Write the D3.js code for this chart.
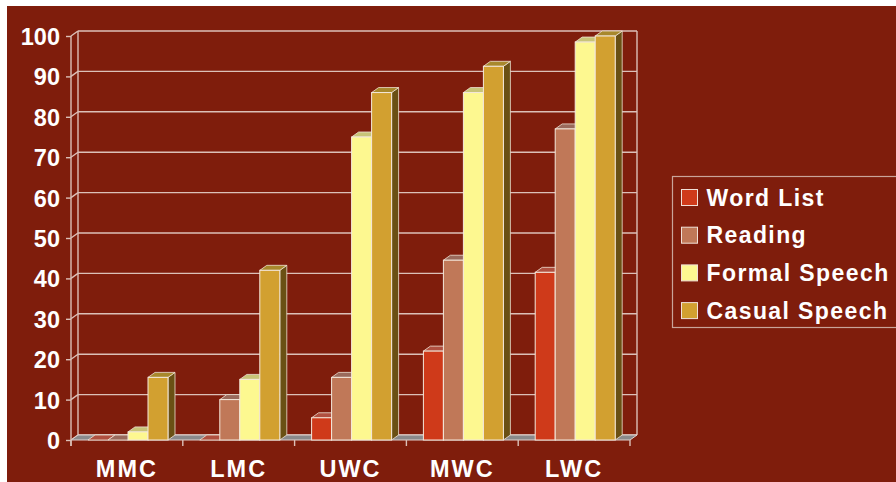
<!DOCTYPE html>
<html>
<head>
<meta charset="utf-8">
<script src="https://cdn.jsdelivr.net/npm/d3@7"></script>
<style>
  body { margin: 0; background: #fff; }
  svg { display: block; }
  text { font-family: "Liberation Sans", Arial, sans-serif; font-weight: bold; fill: #fff; }
</style>
</head>
<body>
<svg id="chart"></svg>
<script>
// data
const classes = ['MMC', 'LMC', 'UWC', 'MWC', 'LWC'];
const styles = ['Word List', 'Reading', 'Formal Speech', 'Casual Speech'];
const wordList = [0, 0, 5.5, 22, 41.5];
const reading = [0, 10, 15.5, 44.5, 77];
const formalSpeech = [2, 15, 75, 86, 98.5];
const casualSpeech = [15.5, 42, 86, 92.5, 100];
const yTicks = [0, 10, 20, 30, 40, 50, 60, 70, 80, 90, 100];

const seriesValues = [wordList, reading, formalSpeech, casualSpeech];

// front / top / side colours per series
const frontCol = ['#cf3a1a', '#c07858', '#fdf890', '#d2a030'];
const topCol = ['#b05040', '#9a6a5c', '#c8c478', '#a8882c'];
const sideCol = ['#7a2a14', '#7a4a38', '#a09c5c', '#6a5014'];

const W = 896, H = 482;
const dx = 7, dy = -5; // depth of the 3d look

const svg = d3.select('#chart').attr('width', W).attr('height', H);

// dark red panel
svg.append('rect').attr('x', 7).attr('y', 6).attr('width', W - 7).attr('height', H - 6)
  .attr('fill', '#7f1d0c');

const x0 = d3.scaleBand().domain(classes).range([71, 630]);
const x1 = d3.scaleBand().domain(styles).range([17, 97]);
const y = d3.scaleLinear().domain([0, 100]).range([440, 36]);

const gridCol = '#dcc0b8';

// back wall gridlines
svg.append('g').selectAll('line').data(yTicks).join('line')
  .attr('x1', 71 + dx).attr('x2', 630 + dx)
  .attr('y1', d => y(d) + dy).attr('y2', d => y(d) + dy)
  .attr('stroke', gridCol).attr('stroke-width', 1.4);

// back wall verticals
[71 + dx, 630 + dx].forEach(xx => {
  svg.append('line').attr('x1', xx).attr('x2', xx)
    .attr('y1', y(100) + dy).attr('y2', y(0) + dy)
    .attr('stroke', gridCol).attr('stroke-width', 1.4);
});

// side wall connectors from front ticks to back wall
svg.append('g').selectAll('line').data(yTicks).join('line')
  .attr('x1', 71).attr('x2', 71 + dx)
  .attr('y1', d => y(d)).attr('y2', d => y(d) + dy)
  .attr('stroke', gridCol).attr('stroke-width', 1.4);

// floor
svg.append('path')
  .attr('d', `M71,${y(0)} L630,${y(0)} L${630 + dx},${y(0) + dy} L${71 + dx},${y(0) + dy} Z`)
  .attr('fill', '#8a8a8c').attr('stroke', '#e0d0cc').attr('stroke-width', 1);

// bars
const bars = [];
classes.forEach((c, i) => {
  styles.forEach((s, j) => {
    bars.push({cls: c, style: s, j: j, value: seriesValues[j][i]});
  });
});

const barG = svg.append('g').selectAll('g').data(bars).join('g');
const bw = x1.bandwidth();

barG.each(function(d) {
  const g = d3.select(this);
  const xl = x0(d.cls) + x1(d.style);
  const xr = xl + bw;
  const yt = y(d.value), yb = y(0);
  if (d.value > 0) {
    g.append('path')
      .attr('d', `M${xr},${yb} L${xr + dx},${yb + dy} L${xr + dx},${yt + dy} L${xr},${yt} Z`)
      .attr('fill', sideCol[d.j]).attr('stroke', '#efe2d4').attr('stroke-width', 0.8);
  }
  g.append('path')
    .attr('d', `M${xl},${yt} L${xl + dx},${yt + dy} L${xr + dx},${yt + dy} L${xr},${yt} Z`)
    .attr('fill', topCol[d.j]).attr('stroke', '#efe2d4').attr('stroke-width', 0.8);
  if (d.value > 0) {
    g.append('rect')
      .attr('x', xl).attr('y', yt).attr('width', bw).attr('height', yb - yt)
      .attr('fill', frontCol[d.j]).attr('stroke', '#f4e8dc').attr('stroke-width', 1);
  }
});

// front y axis
const yAxis = d3.axisLeft(y).tickValues(yTicks).tickSize(5).tickPadding(6).tickSizeOuter(0);
const yAxisG = svg.append('g').attr('transform', 'translate(71,0)').call(yAxis);
yAxisG.select('.domain').attr('stroke', gridCol).attr('stroke-width', 1.4)
  .attr('d', `M0,${y(100)}V${y(0) + 6}`);
yAxisG.selectAll('.tick line').attr('stroke', gridCol).attr('stroke-width', 1.4);
yAxisG.selectAll('.tick text').attr('fill', '#fff')
  .style('font-size', '23.5px').style('font-family', '"Liberation Sans", Arial, sans-serif')
  .style('font-weight', 'bold').attr('dy', '0.36em');

// front x axis
const xAxis = d3.axisBottom(x0).tickSize(0);
const xAxisG = svg.append('g').attr('transform', `translate(0,${y(0)})`).call(xAxis);
xAxisG.select('.domain').remove();
xAxisG.selectAll('.tick text').attr('fill', '#fff')
  .attr('y', 37).attr('dy', 0)
  .style('font-size', '23.5px').style('font-family', '"Liberation Sans", Arial, sans-serif')
  .style('font-weight', 'bold').style('letter-spacing', '2px');
// category boundary ticks
const bounds = classes.map(c => x0(c)).concat([x0.range()[1]]);
svg.append('g').selectAll('line').data(bounds).join('line')
  .attr('x1', d => d).attr('x2', d => d)
  .attr('y1', y(0)).attr('y2', y(0) + 6)
  .attr('stroke', gridCol).attr('stroke-width', 1.4);

// legend
const leg = svg.append('g').attr('transform', 'translate(672.5,176.5)');
leg.append('rect').attr('width', 240).attr('height', 151)
  .attr('fill', 'none').attr('stroke', '#c9a49a').attr('stroke-width', 1.2);
const item = leg.selectAll('g').data(styles).join('g')
  .attr('transform', (d, i) => `translate(0,${21 + i * 37.7})`);
item.append('rect').attr('x', 9).attr('y', -8).attr('width', 16).attr('height', 16)
  .attr('fill', (d, i) => frontCol[i]).attr('stroke', '#f0e0d8').attr('stroke-width', 1);
item.append('text').attr('x', 34).attr('dy', '0.36em')
  .style('font-size', '23px').style('letter-spacing', '1.4px').text(d => d);
</script>
</body>
</html>
